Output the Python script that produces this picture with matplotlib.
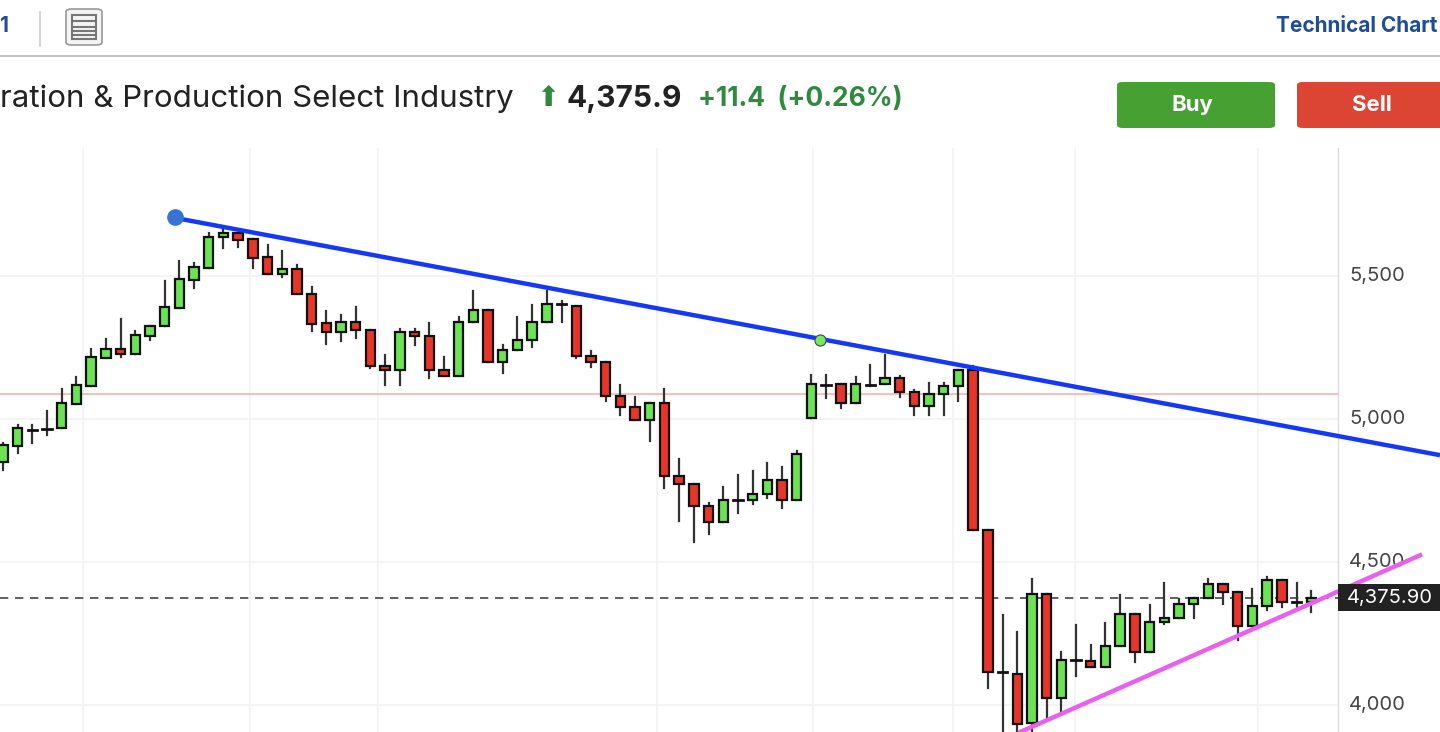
import matplotlib
matplotlib.use("Agg")
import matplotlib.pyplot as plt
from matplotlib.patches import Rectangle, FancyBboxPatch

plt.rcParams["font.family"] = ["Inter", "DejaVu Sans"]

# OHLC
opens = [4850, 4906, 4962, 4966, 4969, 5052, 5115, 5213, 5245, 5227,
         5290, 5325, 5388, 5486, 5528, 5636, 5650, 5629, 5566, 5507,
         5524, 5437, 5336, 5304, 5339, 5311, 5185, 5171, 5304, 5290,
         5171, 5150, 5339, 5381, 5199, 5241, 5276, 5339, 5402, 5395,
         5220, 5199, 5080, 5042, 4997, 5056, 4801, 4773, 4696, 4640,
         4717, 4717, 4738, 4787, 4717, 5004, 5119, 5122, 5056, 5119,
         5122, 5143, 5094, 5045, 5087, 5115, 5171, 4612, 4115, 4108,
         3937, 4388, 4025, 4157, 4154, 4133, 4206, 4318, 4185, 4290,
         4304, 4353, 4374, 4423, 4395, 4276, 4346, 4437, 4360, 4360]
highs = [4916, 4979, 4979, 5028, 5105, 5147, 5245, 5280, 5350, 5308,
         5325, 5483, 5552, 5545, 5650, 5661, 5650, 5629, 5608, 5587,
         5538, 5462, 5378, 5364, 5392, 5311, 5224, 5315, 5315, 5336,
         5217, 5357, 5448, 5381, 5259, 5357, 5399, 5448, 5413, 5395,
         5238, 5199, 5119, 5077, 5056, 5105, 4860, 4773, 4706, 4762,
         4804, 4818, 4846, 4832, 4888, 5154, 5154, 5122, 5147, 5189,
         5224, 5150, 5101, 5126, 5126, 5171, 5185, 4612, 4315, 4255,
         4441, 4388, 4185, 4280, 4210, 4287, 4385, 4318, 4350, 4427,
         4371, 4374, 4441, 4423, 4395, 4406, 4448, 4437, 4427, 4399]
lows = [4822, 4881, 4916, 4944, 4969, 5052, 5115, 5213, 5217, 5227,
        5276, 5325, 5388, 5458, 5528, 5598, 5601, 5528, 5507, 5496,
        5437, 5308, 5262, 5273, 5283, 5178, 5119, 5119, 5259, 5143,
        5150, 5150, 5339, 5199, 5161, 5241, 5252, 5339, 5339, 5213,
        5182, 5063, 5014, 4997, 4923, 4759, 4643, 4570, 4598, 4640,
        4671, 4703, 4724, 4689, 4717, 5004, 5073, 5038, 5056, 5115,
        5122, 5077, 5014, 5014, 5014, 5063, 4612, 4059, 3890, 3900,
        3900, 3955, 3979, 4101, 4133, 4133, 4206, 4150, 4185, 4283,
        4304, 4304, 4374, 4353, 4227, 4276, 4332, 4343, 4339, 4325]
closes = [4909, 4969, 4965, 4969, 5056, 5119, 5217, 5245, 5227, 5294,
          5325, 5392, 5490, 5531, 5636, 5650, 5626, 5563, 5507, 5524,
          5437, 5332, 5304, 5339, 5311, 5185, 5171, 5304, 5290, 5171,
          5150, 5339, 5381, 5199, 5241, 5276, 5339, 5402, 5399, 5220,
          5199, 5080, 5042, 4997, 5056, 4801, 4773, 4696, 4640, 4717,
          4720, 4738, 4787, 4717, 4878, 5122, 5126, 5056, 5122, 5126,
          5143, 5094, 5045, 5087, 5115, 5171, 4612, 4115, 4112, 3934,
          4388, 4025, 4157, 4157, 4133, 4206, 4318, 4185, 4290, 4304,
          4353, 4374, 4423, 4395, 4276, 4346, 4437, 4360, 4360, 4374]

y_ticks = [4000, 4500, 5000, 5500]
x_grid = [5.44, 16.8, 25.5, 44.5, 55.1, 64.6, 72.9, 85.4]
prev_close = 5087
last_price = 4375.9
resist_x, resist_y = [11.77, 97.76], [5703, 4874]
support_x, support_y = [69.2, 96.4], [3906, 4524]
pivot = (55.6, 5276)

fig = plt.figure(figsize=(14.4, 7.32), dpi=100)
ax = fig.add_axes([0, 0, 1, (732 - 148) / 732])
ax.set_xlim(-0.204, 97.76)
ax.set_ylim(3906, 5948)
ax.axis("off")

chart_right = (1338 - 3) / 14.7
for g in x_grid:
    ax.plot([g, g], [3906, 5948], color="#f2f2f2", lw=1.2, zorder=0)
for t in y_ticks:
    ax.plot([-0.204, chart_right], [t, t], color="#f2f2f2", lw=1.2, zorder=0)
    ax.text(chart_right + 0.75, t, f"{t:,}", va="center", ha="left", fontsize=14.5, color="#444")
ax.plot([chart_right, chart_right], [3906, 5948], color="#dddddd", lw=1, zorder=0)
ax.plot([-0.204, chart_right], [prev_close] * 2, color="#f4b5b0", lw=1.2, zorder=1)
ax.plot([-0.204, chart_right], [last_price] * 2, color="#444", lw=1.2, ls=(0, (5, 4)), zorder=1)

for i, (o, h, l, c) in enumerate(zip(opens, highs, lows, closes)):
    col = "#6be353" if c >= o else "#e8352a"
    ax.plot([i, i], [l, h], color="#333", lw=1.6, zorder=2)
    bot, top = min(o, c), max(o, c)
    if top - bot < 8:
        ax.plot([i - 0.32, i + 0.32], [o, o], color="#111", lw=2, zorder=3)
    else:
        ax.add_patch(Rectangle((i - 0.32, bot), 0.64, top - bot, facecolor=col,
                               edgecolor="#111", lw=1.6, zorder=3))

ax.plot(resist_x, resist_y, color="#1438f5", lw=3.2, zorder=4, solid_capstyle="butt")
ax.plot(resist_x[0] - 0.1, resist_y[0] + 5, "o", ms=11, color="#3773d4", zorder=5)
ax.plot(*pivot, "o", ms=8, color="#78e85c", mec="#444", mew=0.8, zorder=5)
ax.plot(support_x, support_y, color="#ea60ee", lw=3.2, zorder=4)

# last price tag
ax.add_patch(Rectangle((chart_right, last_price - 48), 8, 96, facecolor="#222", zorder=6, clip_on=False))
ax.text(chart_right + 0.6, last_price, "4,375.90", color="white", va="center", ha="left", fontsize=14.5, zorder=7)

# header
fig.add_artist(plt.Line2D([0, 1], [1 - 56 / 732] * 2, color="#bbbbbb", lw=1.2))
fig.add_artist(plt.Line2D([40 / 1440] * 2, [1 - 12 / 732, 1 - 46 / 732], color="#cccccc", lw=1.2))
fig.text(0, 1 - 26 / 732, "1", color="#1f4e96", fontsize=15, fontweight="bold", va="center")
fig.add_artist(FancyBboxPatch((66 / 1440, 1 - 45 / 732), 36 / 1440, 36 / 732,
                              boxstyle="round,pad=0,rounding_size=0.004", fc="#f4f4f4", ec="#999", lw=1.2))
fig.add_artist(Rectangle((72 / 1440, 1 - 39 / 732), 24 / 1440, 24 / 732, fc="none", ec="#777", lw=1.5))
for yy in [21, 27, 31, 35]:
    fig.add_artist(plt.Line2D([74 / 1440, 94 / 1440], [1 - yy / 732] * 2, color="#777", lw=1.5))
fig.text(1437 / 1440, 1 - 26 / 732, "Technical Chart", color="#1f4e96", fontsize=15, fontweight="bold",
         ha="right", va="center")
fig.text(0, 1 - 99 / 732, "ration & Production Select Industry", color="#222", fontsize=22.5, va="center")
fig.text(536 / 1440, 1 - 98 / 732, "\u2b06", color="#2e8a3e", fontsize=20, va="center", family=["DejaVu Sans"])
fig.text(566 / 1440, 1 - 99 / 732, "4,375.9", color="#222", fontsize=21.5, fontweight="bold", va="center")
fig.text(698 / 1440, 1 - 99 / 732, "+11.4  (+0.26%)", color="#2e8a3e", fontsize=19, fontweight="bold", va="center")
for x0, w, fc, label in [(1117, 158, "#46a032", "Buy"), (1297, 160, "#dc4433", "Sell")]:
    fig.add_artist(FancyBboxPatch((x0 / 1440, 1 - 128 / 732), w / 1440, 46 / 732,
                                  boxstyle="round,pad=0,rounding_size=0.004", fc=fc, ec="none"))
    fig.text((x0 + 75) / 1440, 1 - 105 / 732, label, color="white", fontsize=16, fontweight="bold",
             ha="center", va="center")

fig.savefig("out.png", dpi=100)
